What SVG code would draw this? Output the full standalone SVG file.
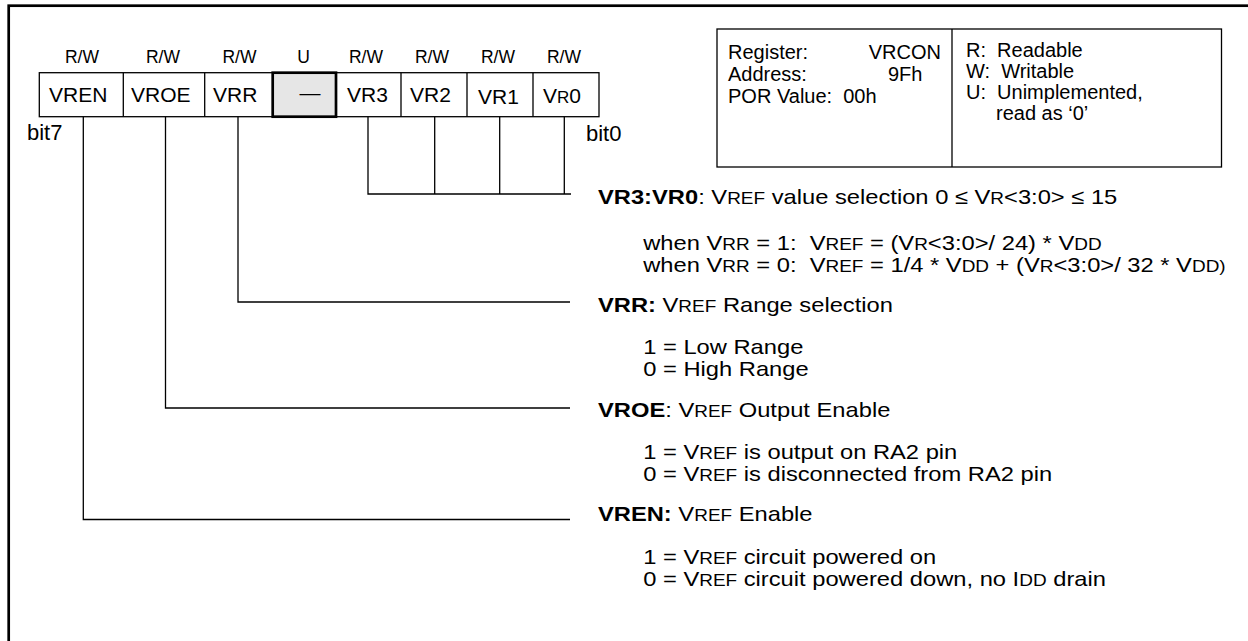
<svg xmlns="http://www.w3.org/2000/svg" width="1248" height="641" viewBox="0 0 1248 641">
<style>
text{font-family:"Liberation Sans",Arial,sans-serif;fill:#000;white-space:pre}
.rw{font-size:17.5px;text-anchor:middle}
.cell{font-size:21px}
.bit{font-size:22px}
.info{font-size:20px}
.d{font-size:21px}
.b{font-weight:bold}
.sc{font-size:16.8px}
.ln{fill:none;stroke:#000;stroke-width:1.3}
</style>
<rect x="8.7" y="5.7" width="1300" height="700" fill="#fff" stroke="#000" stroke-width="2.7"/>
<g id="access">
<text class="rw" x="82" y="63">R/W</text>
<text class="rw" x="163" y="63">R/W</text>
<text class="rw" x="239.5" y="63">R/W</text>
<text class="rw" x="303.5" y="63">U</text>
<text class="rw" x="366" y="63">R/W</text>
<text class="rw" x="432" y="63">R/W</text>
<text class="rw" x="498" y="63">R/W</text>
<text class="rw" x="564" y="63">R/W</text>
</g>
<g id="register">
<rect x="39.3" y="72.7" width="559.7" height="44" fill="#fff" stroke="#000" stroke-width="1.3"/>
<path class="ln" d="M123.3,72.7V116.7M204.7,72.7V116.7M401,72.7V116.7M467,72.7V116.7M533,72.7V116.7"/>
<rect x="272.7" y="72.7" width="63.3" height="44" fill="#e6e6e6" stroke="#000" stroke-width="2.7"/>
<text class="cell" x="49" y="101.7">VREN</text>
<text class="cell" x="131" y="101.7">VROE</text>
<text class="cell" x="213" y="101.7">VRR</text>
<text class="cell" x="310" y="100" text-anchor="middle">—</text>
<text class="cell" x="347" y="101.7">VR3</text>
<text class="cell" x="410" y="101.7">VR2</text>
<text class="cell" x="478" y="104">VR1</text>
<text class="cell" x="543" y="103">V<tspan font-size="17">R</tspan>0</text>
<text class="bit" x="27" y="140">bit7</text>
<text class="bit" x="586" y="141">bit0</text>
</g>
<g id="info">
<rect x="717" y="29" width="504.5" height="138" fill="#fff" stroke="#000" stroke-width="1.3"/>
<line x1="952" y1="29" x2="952" y2="167" stroke="#000" stroke-width="1.3"/>
<text class="info" x="728" y="59">Register:</text>
<text class="info" x="941" y="59" text-anchor="end">VRCON</text>
<text class="info" x="728" y="81">Address:</text>
<text class="info" x="888" y="81">9Fh</text>
<text class="info" x="728" y="103">POR Value:  00h</text>
<text class="info" x="966" y="57">R:  Readable</text>
<text class="info" x="966" y="78">W:  Writable</text>
<text class="info" x="966" y="99">U:  Unimplemented,</text>
<text class="info" x="996" y="120">read as ‘0’</text>
</g>
<g id="connectors">
<path class="ln" d="M83.3,116.7V519.5H570"/>
<path class="ln" d="M165.5,116.7V408H570"/>
<path class="ln" d="M238,116.7V302H570"/>
<path class="ln" d="M368,116.7V194H571M434.7,116.7V194M499.7,116.7V194M564.3,116.7V194"/>
</g>
<g transform="translate(598,0) scale(1.13,1) translate(-598,0)">
<g id="desc-vr">
<text class="d" x="598" y="204.5"><tspan class="b">VR3:VR0</tspan>: V<tspan class="sc">REF</tspan> value selection 0 ≤ V<tspan class="sc">R</tspan>&lt;3:0&gt; ≤ 15</text>
<text class="d" x="638" y="250.5">when V<tspan class="sc">RR</tspan> = 1:  V<tspan class="sc">REF</tspan> = (V<tspan class="sc">R</tspan>&lt;3:0&gt;/ 24) * V<tspan class="sc">DD</tspan></text>
<text class="d" x="638" y="272.5">when V<tspan class="sc">RR</tspan> = 0:  V<tspan class="sc">REF</tspan> = 1/4 * V<tspan class="sc">DD</tspan> + (V<tspan class="sc">R</tspan>&lt;3:0&gt;/ 32 * V<tspan class="sc">DD)</tspan></text>
</g>
<g id="desc-vrr">
<text class="d" x="598" y="312.5"><tspan class="b">VRR:</tspan> V<tspan class="sc">REF</tspan> Range selection</text>
<text class="d" x="638" y="354.5">1 = Low Range</text>
<text class="d" x="638" y="376.5">0 = High Range</text>
</g>
<g id="desc-vroe">
<text class="d" x="598" y="417.5"><tspan class="b">VROE</tspan>: V<tspan class="sc">REF</tspan> Output Enable</text>
<text class="d" x="638" y="459.5">1 = V<tspan class="sc">REF</tspan> is output on RA2 pin</text>
<text class="d" x="638" y="481.5">0 = V<tspan class="sc">REF</tspan> is disconnected from RA2 pin</text>
</g>
<g id="desc-vren">
<text class="d" x="598" y="521.5"><tspan class="b">VREN:</tspan> V<tspan class="sc">REF</tspan> Enable</text>
<text class="d" x="638" y="564.5">1 = V<tspan class="sc">REF</tspan> circuit powered on</text>
<text class="d" x="638" y="586.5">0 = V<tspan class="sc">REF</tspan> circuit powered down, no I<tspan class="sc">DD</tspan> drain</text>
</g>
</g>
</svg>
